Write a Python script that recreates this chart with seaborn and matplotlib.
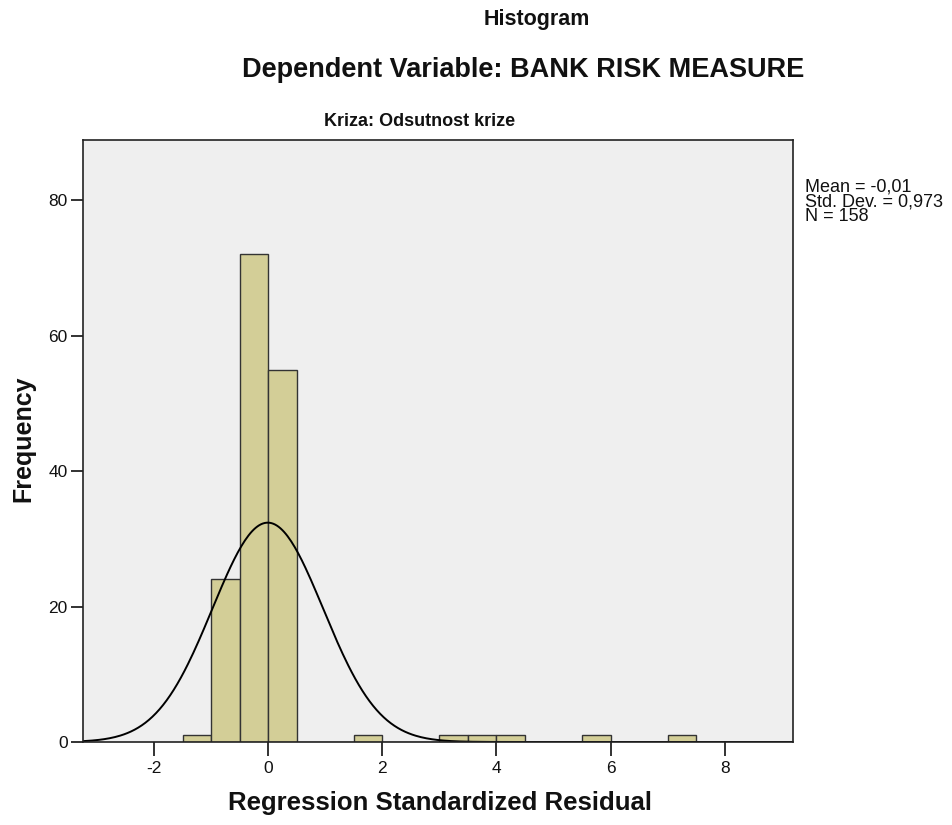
import numpy as np
import pandas as pd
import matplotlib
matplotlib.use("Agg")
import matplotlib.pyplot as plt
import seaborn as sns

# histogram bins (width 0.5) and frequencies
bin_left = [-1.5, -1.0, -0.5, 0.0, 1.5, 3.0, 3.5, 4.0, 5.5, 7.0]
freq = [1, 24, 72, 55, 1, 1, 1, 1, 1, 1]
bin_width = 0.5

# summary stats shown at right
mean_val = -0.01
std_val = 0.973
n_obs = 158

x_ticks = [-2, 0, 2, 4, 6, 8]
y_ticks = [0, 20, 40, 60, 80]

sns.set_theme(style="white")
plt.rcParams['font.family'] = ['Liberation Sans', 'DejaVu Sans']
plt.rcParams['axes.unicode_minus'] = False

fig = plt.figure(figsize=(9.52, 8.25), dpi=100)
ax = fig.add_axes([83 / 952, 1 - 742 / 825, (793 - 83) / 952, (742 - 140) / 825])
ax.set_facecolor('#efefef')

df = pd.DataFrame({'resid': [b + bin_width / 2 for b in bin_left], 'count': freq})
sns.histplot(data=df, x='resid', weights='count', binwidth=bin_width, binrange=(-1.5, 7.5),
             color='#d3ce97', alpha=1, edgecolor='#333333', linewidth=1.0, ax=ax)

# fitted normal curve
xs = np.linspace(-3.25, 9.2, 400)
ys = n_obs * bin_width * np.exp(-0.5 * ((xs - mean_val) / std_val) ** 2) / (std_val * np.sqrt(2 * np.pi))
sns.lineplot(x=xs, y=ys, color='black', linewidth=1.4, ax=ax)

ax.set_xlim(-3.25, 9.2)
ax.set_ylim(0, 88.9)
ax.set_xticks(x_ticks)
ax.set_yticks(y_ticks)
ax.tick_params(axis='x', direction='out', length=10, width=1.3, color='#222222',
               labelsize=12.5, labelcolor='#111111', bottom=True, pad=4)
ax.tick_params(axis='y', direction='out', length=9, width=1.3, color='#222222',
               labelsize=12.5, labelcolor='#111111', left=True, pad=2)
for s in ax.spines.values():
    s.set_color('#222222')
    s.set_linewidth(1.2)
ax.set_xlabel('')
ax.set_ylabel('')

fig.text(440 / 952, 1 - 803 / 825, 'Regression Standardized Residual', ha='center', va='center',
         fontsize=18.5, fontweight='bold', color='#111111')
fig.text(23 / 952, 1 - 439 / 825, 'Frequency', ha='center', va='center', rotation=90,
         fontsize=18, fontweight='bold', color='#111111')
fig.text(420 / 952, 1 - 122 / 825, 'Kriza: Odsutnost krize', ha='center', va='center',
         fontsize=13, fontweight='bold', color='#111111')
fig.text(537 / 952, 1 - 20 / 825, 'Histogram', ha='center', va='center',
         fontsize=15.5, fontweight='bold', color='#111111')
fig.text(523 / 952, 1 - 70 / 825, 'Dependent Variable: BANK RISK MEASURE',
         ha='center', va='center', fontsize=19.5, fontweight='bold', color='#111111')

stats_txt = ('Mean = ' + f'{mean_val:.2f}'.replace('.', ',') + '\n'
             + 'Std. Dev. = ' + f'{std_val:.3f}'.replace('.', ',') + '\n'
             + f'N = {n_obs}')
fig.text(805 / 952, 1 - 178 / 825, stats_txt, ha='left', va='top', fontsize=13,
         linespacing=0.85, color='#111111')

fig.savefig('out.png', dpi=100, facecolor='white')
